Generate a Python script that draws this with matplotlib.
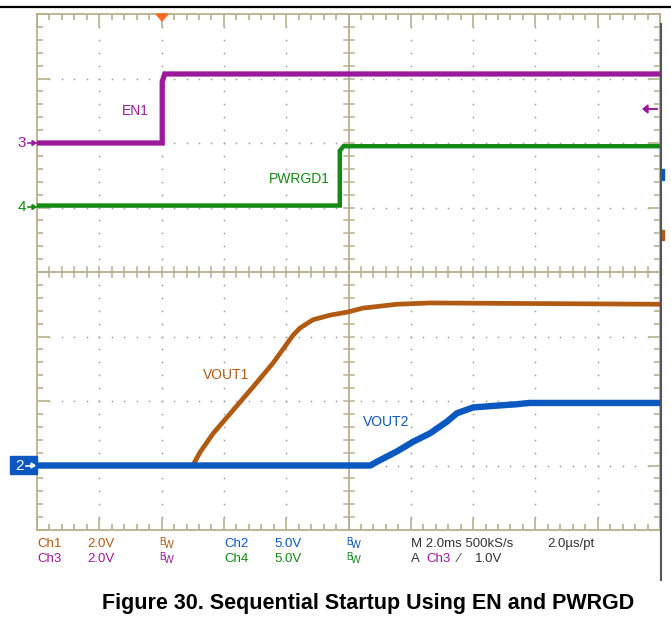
import numpy as np
import matplotlib
matplotlib.use("Agg")
import matplotlib.pyplot as plt
from matplotlib.patches import Rectangle, Polygon

# ---- trace data, in scope divisions (x: 0..10, y: 0..8) ----
en1_x = [0.0, 2.01, 2.01, 2.05, 10.0]
en1_y = [6.0, 6.0, 6.95, 7.07, 7.07]

pwrgd_x = [0.0, 4.86, 4.86, 4.92, 10.0]
pwrgd_y = [5.03, 5.03, 5.88, 5.95, 5.95]

vout1_x = [0.0, 2.50, 2.62, 2.83, 3.15, 3.47, 3.79, 4.11, 4.22, 4.43, 4.70, 4.99, 5.23, 5.78, 6.31, 10.0]
vout1_y = [1.0, 1.0, 1.21, 1.50, 1.86, 2.22, 2.59, 3.02, 3.13, 3.26, 3.33, 3.38, 3.44, 3.50, 3.52, 3.50]

vout2_x = [0.0, 5.35, 5.46, 5.78, 6.04, 6.31, 6.58, 6.74, 7.00, 7.27, 7.70, 7.91, 10.0]
vout2_y = [1.0, 1.0, 1.06, 1.22, 1.37, 1.50, 1.68, 1.81, 1.90, 1.92, 1.95, 1.97, 1.97]

trace_labels = ["EN1", "PWRGD1", "VOUT1", "VOUT2"]

# colours
PURPLE = "#9a1a9a"
GREEN = "#148a14"
BROWN = "#b05a12"
BLUE = "#0a58c0"
TAN = "#b8b08e"
DOT = "#a0a0a0"

W, H = 671, 625
fig = plt.figure(figsize=(W / 100, H / 100), dpi=100)


def fx(x):
    return x / W


def fy(y):
    return 1 - y / H


# grid box 37..660 px wide, 14..530 px tall
L, R, T, B = 37, 660, 14, 530
ax = fig.add_axes([fx(L), fy(B), (R - L) / W, (B - T) / H])
ax.set_xlim(0, 10)
ax.set_ylim(0, 8)
for s in ax.spines.values():
    s.set_color(TAN)
    s.set_linewidth(1.3)
ax.set_xticks(np.arange(0, 11, 1))
ax.set_yticks(np.arange(0, 9, 1))
ax.set_xticks(np.arange(0, 10.01, 0.2), minor=True)
ax.set_yticks(np.arange(0, 8.01, 0.2), minor=True)
ax.tick_params(which="both", direction="in", top=True, right=True,
               labelbottom=False, labelleft=False, color=TAN, width=1.2)
ax.tick_params(which="major", length=9)
ax.tick_params(which="minor", length=4)

# dotted grid
minor_x = np.arange(0, 10.01, 0.2)
minor_y = np.arange(0, 8.01, 0.2)
for gx in [1, 2, 3, 4, 6, 7, 8, 9]:
    ax.scatter(np.full(len(minor_y), gx), minor_y, s=1.6, color=DOT, lw=0, zorder=1)
for gy in [1, 2, 3, 5, 6, 7]:
    ax.scatter(minor_x, np.full(len(minor_x), gy), s=1.6, color=DOT, lw=0, zorder=1)

# center crosshair with ticks
ax.axvline(5, color=TAN, lw=1.3, zorder=1)
ax.axhline(4, color=TAN, lw=1.3, zorder=1)
hx = 5 / 62.3
hy = 5 / 64.5
for t in minor_x:
    ax.plot([t, t], [4 - hy, 4 + hy], color=TAN, lw=1.1, zorder=1)
for t in minor_y:
    ax.plot([5 - hx, 5 + hx], [t, t], color=TAN, lw=1.1, zorder=1)

# traces
ax.plot(en1_x, en1_y, color=PURPLE, lw=3.8, solid_joinstyle="miter", zorder=3)
ax.plot(pwrgd_x, pwrgd_y, color=GREEN, lw=3.2, solid_joinstyle="miter", zorder=3)
ax.plot(vout1_x, vout1_y, color=BROWN, lw=3.4, zorder=3)
ax.plot(vout2_x, vout2_y, color=BLUE, lw=4.6, zorder=4)

# trace labels
lab_font = ["Liberation Sans Narrow", "Liberation Sans", "DejaVu Sans"]
lab_pos = [(135, 111, PURPLE), (299, 179, GREEN), (226, 375, BROWN), (386, 422, BLUE)]
for name, (px, py, c) in zip(trace_labels, lab_pos):
    fig.text(fx(px), fy(py), name, color=c, fontsize=10, family=lab_font,
             ha="center", va="center")

# channel ground markers on the left
fig.text(fx(22), fy(143), "3", color=PURPLE, fontsize=11, family=lab_font, ha="center", va="center")
fig.text(fx(22), fy(207), "4", color=GREEN, fontsize=11, family=lab_font, ha="center", va="center")
for yy, c in [(143, PURPLE), (207, GREEN)]:
    fig.add_artist(plt.Line2D([fx(28), fx(36)], [fy(yy), fy(yy)], color=c, lw=1.2))
    fig.add_artist(Polygon([[fx(36), fy(yy)], [fx(32), fy(yy - 2.5)], [fx(32), fy(yy + 2.5)]],
                           closed=True, color=c))
fig.add_artist(Rectangle((fx(10), fy(474)), 27 / W, 18 / H, color=BLUE))
fig.text(fx(19), fy(465.5), "2", color="white", fontsize=11, family=lab_font, ha="center", va="center")
fig.add_artist(plt.Line2D([fx(26), fx(34)], [fy(465.5), fy(465.5)], color="white", lw=1.2))
fig.add_artist(Polygon([[fx(35), fy(465.5)], [fx(31), fy(463)], [fx(31), fy(468)]],
                       closed=True, color="white"))

# trigger marker at top, purple arrow at right
fig.add_artist(Polygon([[fx(156), fy(14)], [fx(168), fy(14)], [fx(162), fy(21)]],
                       closed=True, color="#ff6a20"))
fig.add_artist(plt.Line2D([fx(645), fx(657)], [fy(109), fy(109)], color=PURPLE, lw=1.4))
fig.add_artist(Polygon([[fx(643), fy(109)], [fx(648), fy(105)], [fx(648), fy(113)]],
                       closed=True, color=PURPLE))

# frame lines
fig.add_artist(plt.Line2D([0, 1], [fy(7), fy(7)], color="black", lw=1.6))
fig.add_artist(plt.Line2D([fx(661), fx(661)], [fy(24), fy(580)], color="#555555", lw=1.5))
fig.add_artist(Rectangle((fx(662), fy(180)), 2 / W, 11 / H, color=BLUE))
fig.add_artist(Rectangle((fx(662), fy(240)), 2 / W, 10 / H, color=BROWN))

# readout
GRAY = "#333333"
row1, row2 = 544, 559
readout = [
    (37, row1, "Ch1", BROWN), (87, row1, "2.0V", BROWN),
    (224, row1, "Ch2", BLUE), (274, row1, "5.0V", BLUE),
    (411, row1, "M 2.0ms 500kS/s", GRAY), (547, row1, "2.0\u00b5s/pt", GRAY),
    (37, row2, "Ch3", PURPLE), (87, row2, "2.0V", PURPLE),
    (224, row2, "Ch4", GREEN), (274, row2, "5.0V", GREEN),
    (411, row2, "A", GRAY), (426, row2, "Ch3", PURPLE),
    (458, row2, "\u2215", GRAY), (475, row2, "1.0V", GRAY),
]
for px, py, s, c in readout:
    fig.text(fx(px), fy(py), s, color=c, fontsize=9.5, family=lab_font, ha="left", va="center")
for px, py, c in [(159, row1, BROWN), (159, row2, PURPLE), (346, row1, BLUE), (346, row2, GREEN)]:
    fig.text(fx(px), fy(py - 2), "B", color=c, fontsize=7, family=lab_font, ha="left", va="center")
    fig.text(fx(px + 5), fy(py + 1), "W", color=c, fontsize=7.5, family=lab_font, ha="left", va="center")

# caption
fig.text(fx(368), fy(603), "Figure 30. Sequential Startup Using EN and PWRGD",
         fontsize=15.5, fontweight="bold", family=["Liberation Sans", "DejaVu Sans"],
         ha="center", va="center", color="black")

fig.savefig("out.png", dpi=100)
